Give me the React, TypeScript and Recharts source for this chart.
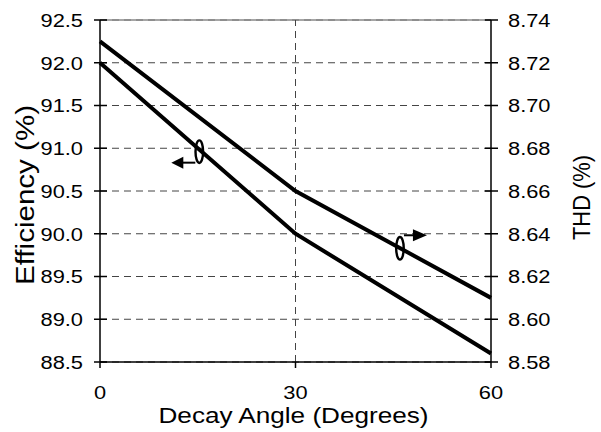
import React from "react";
import { LineChart, Line, XAxis, YAxis, CartesianGrid, ReferenceLine, ReferenceDot } from "recharts";

const angles = [0, 30, 60];
const efficiency = [92.0, 90.0, 88.6];
const thd = [8.73, 8.66, 8.61];
const effTicks = [88.5, 89.0, 89.5, 90.0, 90.5, 91.0, 91.5, 92.0, 92.5];
const thdTicks = [8.58, 8.6, 8.62, 8.64, 8.66, 8.68, 8.7, 8.72, 8.74];
const xTicks = [0, 30, 60];

const data = angles.map((a, i) => ({ angle: a, eff: efficiency[i], thd: thd[i] }));

const FONT = "Liberation Sans, Arial, sans-serif";
const TICK_FS = 19;
const SX = 1.15;
const MARGIN_Y = 17;

const LeftMarker = (props: any) => {
  const { cx, cy } = props;
  return (
    <g>
      <ellipse cx={cx} cy={cy} rx={3.8} ry={11.3} fill="none" stroke="#000" strokeWidth={2.4} />
      <line x1={cx - 4} y1={cy + 11} x2={cx - 17} y2={cy + 11} stroke="#000" strokeWidth={2} />
      <polygon points={`${cx - 28},${cy + 11} ${cx - 16},${cy + 5} ${cx - 16},${cy + 17}`} fill="#000" />
    </g>
  );
};

const RightMarker = (props: any) => {
  const { cx, cy } = props;
  return (
    <g>
      <ellipse cx={cx} cy={cy} rx={3.8} ry={11.3} fill="none" stroke="#000" strokeWidth={2.4} />
      <line x1={cx + 4} y1={cy - 13} x2={cx + 15} y2={cy - 13} stroke="#000" strokeWidth={2} />
      <polygon points={`${cx + 27},${cy - 13} ${cx + 13},${cy - 19} ${cx + 13},${cy - 7}`} fill="#000" />
    </g>
  );
};

const LeftTick = (props: any) => {
  const { x, y, payload } = props;
  const ax = x + MARGIN_Y;
  return (
    <g>
      <line x1={ax - 6} y1={y} x2={ax + 7} y2={y} stroke="#000" strokeWidth={1.5} />
      <text transform={`translate(${x},${y}) scale(${SX},1)`} x={0} y={0} textAnchor="end" dominantBaseline="central" fontSize={TICK_FS} fontFamily={FONT} fill="#000">
        {Number(payload.value).toFixed(1)}
      </text>
    </g>
  );
};

const RightTick = (props: any) => {
  const { x, y, payload } = props;
  const ax = x - MARGIN_Y;
  return (
    <g>
      <line x1={ax - 6} y1={y} x2={ax + 7} y2={y} stroke="#000" strokeWidth={1.5} />
      <text transform={`translate(${x},${y}) scale(${SX},1)`} x={0} y={0} textAnchor="start" dominantBaseline="central" fontSize={TICK_FS} fontFamily={FONT} fill="#000">
        {Number(payload.value).toFixed(2)}
      </text>
    </g>
  );
};

const BottomTick = (props: any) => {
  const { x, y, payload } = props;
  return (
    <text transform={`translate(${x},${y}) scale(${SX},1)`} x={0} y={0} textAnchor="middle" dominantBaseline="central" fontSize={TICK_FS} fontFamily={FONT} fill="#000">
      {payload.value}
    </text>
  );
};

export default function App() {
  return (
    <div style={{ position: "absolute", left: 0, top: 0, background: "#fff" }}>
      <LineChart width={601} height={432} data={data} margin={{ top: 20, right: 0, left: 0, bottom: 0 }}>
        <CartesianGrid yAxisId="left" vertical={false} stroke="#444" strokeDasharray="7 5" />
        <XAxis
          dataKey="angle"
          type="number"
          domain={[0, 60]}
          ticks={xTicks}
          height={70}
          tickSize={6}
          tickMargin={24}
          tick={BottomTick}
          axisLine={{ stroke: "#000", strokeWidth: 1.5 }}
          tickLine={{ stroke: "#000", strokeWidth: 1.5 }}
          label={{
            content: (p: any) => {
              const vb = p.viewBox;
              return (
                <text x={vb.x + vb.width / 2 - 2} y={423} textAnchor="middle" fontSize={22} textLength={270} lengthAdjust="spacingAndGlyphs" fontFamily={FONT} fill="#000">
                  Decay Angle (Degrees)
                </text>
              );
            },
          }}
        />
        <YAxis
          yAxisId="left"
          orientation="left"
          width={100}
          domain={[88.5, 92.5]}
          ticks={effTicks}
          tickSize={0}
          tickMargin={MARGIN_Y}
          tick={LeftTick}
          tickLine={false}
          axisLine={{ stroke: "#000", strokeWidth: 1.5 }}
          interval={0}
          label={{
            content: (p: any) => {
              const x = 33.5;
              const y = 195;
              return (
                <text x={x} y={y} transform={`rotate(-90, ${x}, ${y})`} textAnchor="middle" fontSize={25} textLength={180} lengthAdjust="spacingAndGlyphs" fontFamily={FONT} fill="#000">
                  Efficiency (%)
                </text>
              );
            },
          }}
        />
        <YAxis
          yAxisId="right"
          orientation="right"
          width={110}
          domain={[8.58, 8.74]}
          ticks={thdTicks}
          tickSize={0}
          tickMargin={MARGIN_Y}
          tick={RightTick}
          tickLine={false}
          axisLine={{ stroke: "#000", strokeWidth: 1.5 }}
          interval={0}
          label={{
            content: (p: any) => {
              const x = 589.5;
              const y = 197.5;
              return (
                <text x={x} y={y} transform={`rotate(-90, ${x}, ${y})`} textAnchor="middle" fontSize={24.5} textLength={85} lengthAdjust="spacingAndGlyphs" fontFamily={FONT} fill="#000">
                  THD (%)
                </text>
              );
            },
          }}
        />
        <ReferenceLine yAxisId="left" y={92.5} stroke="#888" strokeWidth={1.5} />
        <ReferenceLine yAxisId="left" x={30} stroke="#444" strokeDasharray="7 5" />
        <Line yAxisId="left" dataKey="eff" stroke="#000" strokeWidth={4} dot={false} isAnimationActive={false} />
        <Line yAxisId="right" dataKey="thd" stroke="#000" strokeWidth={4} dot={false} isAnimationActive={false} />
        <ReferenceDot yAxisId="left" x={15.24} y={90.96} r={0} shape={LeftMarker} />
        <ReferenceDot yAxisId="left" x={46.03} y={89.83} r={0} shape={RightMarker} />
      </LineChart>
    </div>
  );
}
